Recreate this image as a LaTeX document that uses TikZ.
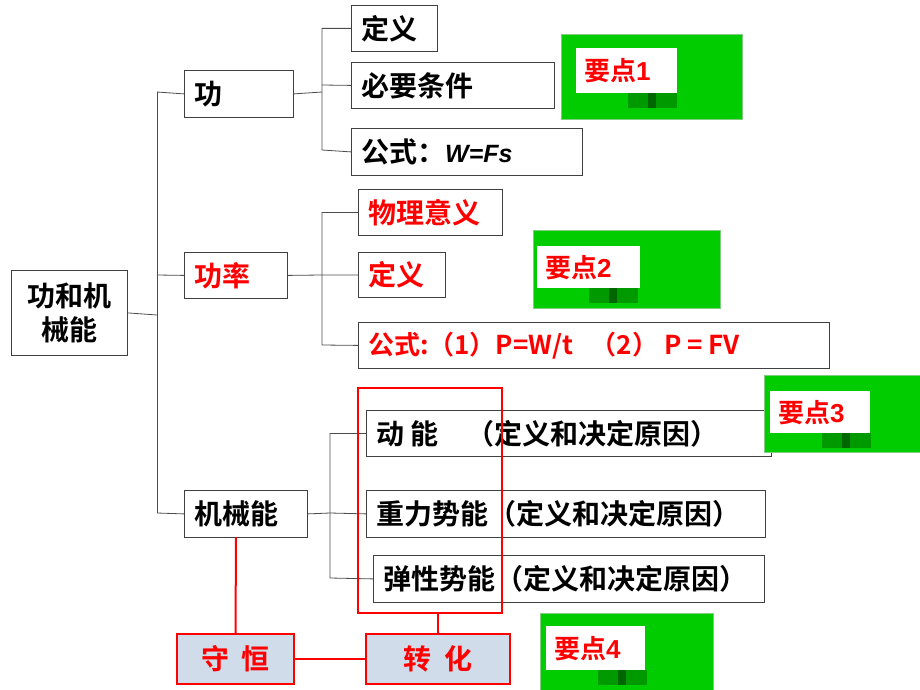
\documentclass[tikz,border=0pt]{standalone}
\usepackage{fontspec}
\setmainfont{Noto Sans CJK SC}[BoldFont={Noto Sans CJK SC Bold}]
\newfontfamily\lat{Liberation Sans}
\begin{document}
\begin{tikzpicture}[x=1pt,y=-1pt,
 bx/.style={draw=black!75,line width=0.8pt,anchor=north west,inner sep=0pt},
 tf/.style={anchor=west,font=\bfseries\fontsize{28}{30}\selectfont,inner sep=0pt},
 red/.style={text=red},
 ln/.style={draw=black!70,line width=0.8pt},
 rl/.style={draw=red,line width=2pt},
 gr/.style={fill=green!80!black,draw=green!60!black!50},
 lab/.style={fill=white,inner sep=0pt,anchor=north west}]
\useasboundingbox (0,0) rectangle (920,690);
\newcommand\mybox[5]{\node[bx,minimum width=#3-#1,minimum height=#4-#2] (#5) at (#1,#2) {};}
\mybox{11}{270}{127}{355}{root}
\node[font=\bfseries\fontsize{28}{34}\selectfont,align=center] at (root.center) {功和机\\械能};
\mybox{184}{70}{293}{117}{gong}
\node[tf] at ([xshift=10]gong.west) {功};
\mybox{184}{252}{287}{298}{gl}
\node[tf,red] at ([xshift=10]gl.west) {功率};
\mybox{184}{490}{307}{537}{jx}
\node[tf] at ([xshift=10]jx.west) {机械能};
\mybox{351}{5}{437}{51}{dy}
\node[tf] at ([xshift=10]dy.west) {定义};
\mybox{351}{62}{554}{108}{by}
\node[tf] at ([xshift=10]by.west) {必要条件};
\mybox{351}{128}{582}{175}{gs}
\node[tf] at ([xshift=10]gs.west) {公式：{\lat\itshape\bfseries\fontsize{25}{28}\selectfont W=Fs}};
\mybox{358}{189}{502}{235}{wl}
\node[tf,red] at ([xshift=10]wl.west) {物理意义};
\mybox{358}{252}{445}{297}{dy2}
\node[tf,red] at ([xshift=10]dy2.west) {定义};
\mybox{358}{322}{829}{368}{gs2}
\node[tf,red,font=\bfseries\fontsize{26}{30}\selectfont] at ([xshift=10]gs2.west) {公式:（1）P=W/t\ \ \ （2） P = FV};
\mybox{366}{410}{771}{456}{dn}
\node[tf] at ([xshift=10]dn.west) {动\ 能\quad （定义和决定原因）};
\mybox{366}{490}{765}{537}{zl}
\node[tf] at ([xshift=10]zl.west) {重力势能（定义和决定原因）};
\mybox{373}{555}{764}{602}{tx}
\node[tf] at ([xshift=10]tx.west) {弹性势能（定义和决定原因）};
% connectors
\coordinate (t1) at (157,92); \coordinate (t2) at (157,513);
\draw[ln] (root.east) -- (157,315);
\draw[ln] (t1) -- (t2);
\draw[ln] (t1) -- (gong.west);
\draw[ln] (157,275) -- (gl.west);
\draw[ln] (t2) -- (jx.west);
\draw[ln] (gong.east) -- (322,92);
\draw[ln] (dy.west) -| (322,150) -- (gs.west);
\draw[ln] (by.west) -- (322,85);
\draw[ln] (gl.east) -- (322,275);
\draw[ln] (wl.west) -| (322,345) -- (gs2.west);
\draw[ln] (dy2.west) -- (322,275);
\draw[ln] (jx.east) -- (330,513);
\draw[ln] (dn.west) -| (330,578) -- (tx.west);
\draw[ln] (zl.west) -- (330,513);
% red group
\draw[rl] (358,388) rectangle (502,613);
\coordinate (rb) at (438,613);
\node[draw=red,line width=2pt,fill={rgb,255:red,208;green,220;blue,234},minimum width=117,minimum height=50,inner sep=0pt,text=red,font=\bfseries\fontsize{28}{30}\selectfont] (sh) at (235.5,659) {守\ \ 恒};
\node[draw=red,line width=2pt,fill={rgb,255:red,208;green,220;blue,234},minimum width=144,minimum height=50,inner sep=0pt,text=red,font=\bfseries\fontsize{28}{30}\selectfont] (zh) at (438,659) {转\ \ 化};
\draw[rl] (236,537) -- (sh.north);
\draw[rl] (rb) -- (zh.north);
\draw[rl] (sh.east) -- (zh.west);
% green key points
\fill[gr] (561,34) rectangle (742,119);
\fill[gr] (533,230) rectangle (720,308);
\fill[gr] (764,375) rectangle (920,452);
\fill[gr] (540,613) rectangle (713,690);
\foreach \x/\y/\w/\h/\n/\t in {576/48/101/45/k1/1,537/246/103/42/k2/2,770/391/100/42/k3/3,546/626/99/44/k4/4}{
 \fill[green!60!black] (\x+52,\y+\h) rectangle (\x+101,\y+\h+15);
 \fill[green!40!black] (\x+72,\y+\h) rectangle (\x+80,\y+\h+15);
 \node[lab,minimum width=\w,minimum height=\h] (\n) at (\x,\y) {};
 \node[text=red,font=\bfseries\fontsize{26}{28}\selectfont,anchor=west,inner sep=0pt] at ([xshift=8]\n.west) {要点{\lat\bfseries\t}};
}
\end{tikzpicture}
\end{document}
